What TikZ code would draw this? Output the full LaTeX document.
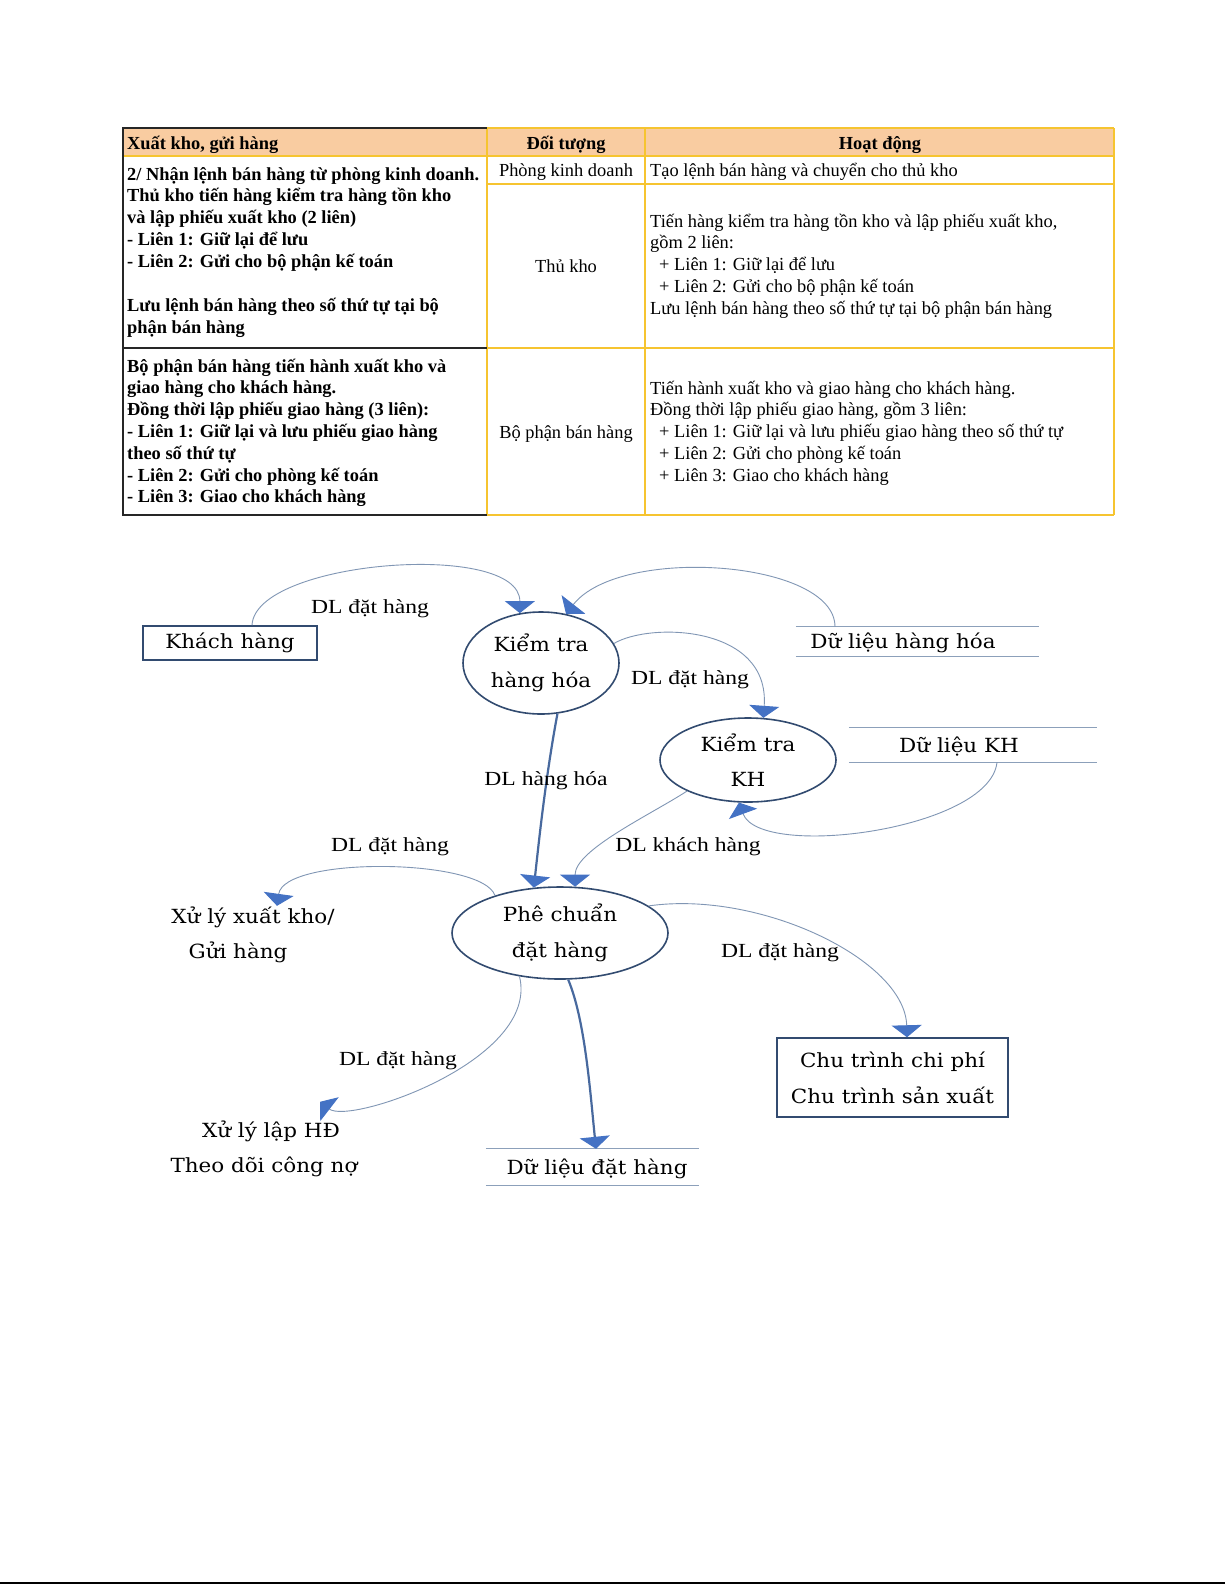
\documentclass[tikz,border=0pt]{standalone}
\usepackage{fontspec}
\setmainfont{Liberation Serif}
\newfontfamily\nodefont[FakeStretch=1.1]{DejaVu Serif}
\newfontfamily\labfont[FakeStretch=1.18]{Liberation Serif}
\usetikzlibrary{arrows.meta,shapes.geometric}
\definecolor{hdrbg}{RGB}{249,204,161}
\definecolor{ylw}{RGB}{246,196,48}
\definecolor{ebord}{RGB}{50,75,112}
\definecolor{flowc}{RGB}{128,150,180}
\definecolor{thickc}{RGB}{72,105,158}
\definecolor{ahead}{RGB}{68,114,196}
\definecolor{storec}{RGB}{140,160,186}
\begin{document}
\begin{tikzpicture}[x=1pt,y=-1pt,
  tcell/.style={inner sep=0pt, anchor=base west, font=\fontsize{18.4}{21.8}\selectfont},
  tbold/.style={inner sep=0pt, anchor=base west, font=\fontsize{18.4}{21.8}\selectfont\bfseries},
  tmid/.style={inner sep=0pt, anchor=base, font=\fontsize{18.4}{21.8}\selectfont},
  tmidb/.style={inner sep=0pt, anchor=base, font=\fontsize{18.4}{21.8}\selectfont\bfseries},
  dtext/.style={font=\nodefont\fontsize{19.5}{23}\selectfont, inner sep=0pt, text height=14pt, text depth=0pt},
  proc/.style={ellipse, draw=ebord, line width=1.6pt, inner sep=0pt, align=center, font=\nodefont\fontsize{19.5}{35.5}\selectfont},
  extbox/.style={rectangle, draw=ebord, line width=1.5pt, inner sep=0pt, align=center, font=\nodefont\fontsize{19.5}{36}\selectfont},
  store/.style={inner sep=0pt, font=\nodefont\fontsize{19.5}{23}\selectfont, text height=14pt, text depth=0pt},
  storeline/.style={draw=storec, line width=1.3pt},
  flowlab/.style={font=\labfont\fontsize{20}{24}\selectfont, inner sep=0pt, text height=12pt, text depth=0pt},
  flowline/.style={draw=flowc, line width=0.9pt, -{Triangle[width=30pt,length=12pt,color=ahead,fill=ahead]}},
  thickline/.style={draw=thickc, line width=2.2pt, -{Triangle[width=30pt,length=12pt,color=ahead,fill=ahead]}}
]
\useasboundingbox (0,0) rectangle (1225,1585);
\fill[white] (0,0) rectangle (1225,1585);

% ---------------- table ----------------
\fill[hdrbg] (123,128) rectangle (1114,156);
\draw[ylw, line width=1.4pt] (123,156) -- (1114,156) (487,128) -- (1114,128) (1114,128) -- (1114,515)
  (487,515) -- (1114,515) (487,184) -- (1114,184) (487,348) -- (1114,348)
  (487,128) -- (487,515) (645,128) -- (645,515);
\draw[black!85, line width=1.4pt] (487,128) -- (123,128) -- (123,515) -- (487,515) (123,348) -- (487,348);

\node[tbold] (h1) at (127,149) {Xuất kho, gửi hàng};
\node[tmidb] (h2) at (566,149) {Đối tượng};
\node[tmidb] (h3) at (880,149) {Hoạt động};

\foreach \t [count=\i] in {{2/ Nhận lệnh bán hàng từ phòng kinh doanh.},{Thủ kho tiến hàng kiểm tra hàng tồn kho},{và lập phiếu xuất kho (2 liên)},{- Liên 1: Giữ lại để lưu},{- Liên 2: Gửi cho bộ phận kế toán}}
  \node[tbold] (ta\i) at (127,{180+21.8*(\i-1)}) {\t};
\node[tbold] (ta6) at (127,311) {Lưu lệnh bán hàng theo số thứ tự tại bộ};
\node[tbold] (ta7) at (127,333) {phận bán hàng};

\foreach \t [count=\i] in {{Bộ phận bán hàng tiến hành xuất kho và},{giao hàng cho khách hàng.},{Đồng thời lập phiếu giao hàng (3 liên):},{- Liên 1: Giữ lại và lưu phiếu giao hàng},{theo số thứ tự},{- Liên 2: Gửi cho phòng kế toán},{- Liên 3: Giao cho khách hàng}}
  \node[tbold] (tb\i) at (127,{372+21.8*(\i-1)}) {\t};

\node[tmid] (o1) at (566,176) {Phòng kinh doanh};
\node[tmid] (o2) at (566,272) {Thủ kho};
\node[tmid] (o3) at (566,438) {Bộ phận bán hàng};

\node[tcell] (r1) at (650,176) {Tạo lệnh bán hàng và chuyển cho thủ kho};
\node[tcell] (r2a) at (650,227) {Tiến hàng kiểm tra hàng tồn kho và lập phiếu xuất kho,};
\node[tcell] (r2b) at (650,248.8) {gồm 2 liên:};
\node[tcell] (r2c) at (659,270.6) {+ Liên 1: Giữ lại để lưu};
\node[tcell] (r2d) at (659,292.4) {+ Liên 2: Gửi cho bộ phận kế toán};
\node[tcell] (r2e) at (650,314.2) {Lưu lệnh bán hàng theo số thứ tự tại bộ phận bán hàng};

\node[tcell] (r3a) at (650,394) {Tiến hành xuất kho và giao hàng cho khách hàng.};
\node[tcell] (r3b) at (650,415.8) {Đồng thời lập phiếu giao hàng, gồm 3 liên:};
\node[tcell] (r3c) at (659,437.6) {+ Liên 1: Giữ lại và lưu phiếu giao hàng theo số thứ tự};
\node[tcell] (r3d) at (659,459.4) {+ Liên 2: Gửi cho phòng kế toán};
\node[tcell] (r3e) at (659,481.2) {+ Liên 3: Giao cho khách hàng};

% ---------------- diagram ----------------
\node[extbox, minimum width=174pt, minimum height=34pt] (kh) at (230,643) {Khách hàng};
\node[proc, minimum width=156pt, minimum height=102pt] (kthh) at (541,663) {Kiểm tra\\hàng hóa};
\node[proc, minimum width=176pt, minimum height=84pt] (kkh) at (748,760) {Kiểm tra\\KH};
\node[proc, minimum width=216pt, minimum height=92pt] (pc) at (560,933) {Phê chuẩn\\đặt hàng};
\node[extbox, minimum width=231pt, minimum height=79pt] (ct) at (892.5,1077.5) {Chu trình chi phí\\Chu trình sản xuất};

\node[store, minimum width=243pt, minimum height=29pt] (dlhh) at (917.5,641.5) {\hspace*{-29pt}Dữ liệu hàng hóa};
\node[store, minimum width=248pt, minimum height=34pt] (dlkh) at (973,745) {\hspace*{-28pt}Dữ liệu KH};
\node[store, minimum width=213pt, minimum height=36pt] (ddh) at (592.5,1167) {\hspace*{9pt}Dữ liệu đặt hàng};
\foreach \s in {dlhh,dlkh,ddh}
  \draw[storeline] (\s.north west) -- (\s.north east) (\s.south west) -- (\s.south east);

\node[dtext] (xlk1) at (253,916) {Xử lý xuất kho/};
\node[dtext] (xlk2) at (238,951) {Gửi hàng};
\node[dtext] (xlh1) at (271,1130) {Xử lý lập HĐ};
\node[dtext] (xlh2) at (264,1165) {Theo dõi công nợ};

% connectors
\draw[flowline] ([xshift=22pt]kh.north) .. controls (255,560) and (520,540) .. (kthh.113);
\draw[flowline] ([xshift=-82.5pt]dlhh.north) .. controls (835,560) and (620,545) .. (kthh.63);
\draw[flowline] (kthh.15) .. controls (650,622) and (770,625) .. (kkh.70);
\draw[flowline] ([xshift=24pt]dlkh.south) .. controls (990,830) and (760,860) .. (kkh.258);
\draw[thickline] (kthh.288) .. controls (545,780) and (538,850) .. (pc.120);
\draw[flowline] (kkh.207) .. controls (650,815) and (575,850) .. (pc.72);
\draw[flowline] (pc.150) .. controls (482,858) and (284,856) .. ([shift={(24pt,3pt)}]xlk1.north);
\draw[flowline] (pc.17) .. controls (760,890) and (905,960) .. ([xshift=14.5pt]ct.north);
\draw[flowline] (pc.227) .. controls (540,1060) and (350,1125) .. ([shift={(49pt,21pt)}]xlh1.north);
\draw[thickline] (pc.280) .. controls (585,1020) and (590,1090) .. ([xshift=3.5pt]ddh.north);

% flow labels
\node[flowlab] (l1) at (370,607) {DL đặt hàng};
\node[flowlab] (l2) at (690,678) {DL đặt hàng};
\node[flowlab] (l3) at (546,779) {DL hàng hóa};
\node[flowlab] (l4) at (390,845) {DL đặt hàng};
\node[flowlab] (l5) at (688,845) {DL khách hàng};
\node[flowlab] (l6) at (780,951) {DL đặt hàng};
\node[flowlab] (l7) at (398,1059) {DL đặt hàng};

% page bottom rule
\draw[black, line width=2pt] (0,1582.5) -- (1225,1582.5);
\end{tikzpicture}
\end{document}
